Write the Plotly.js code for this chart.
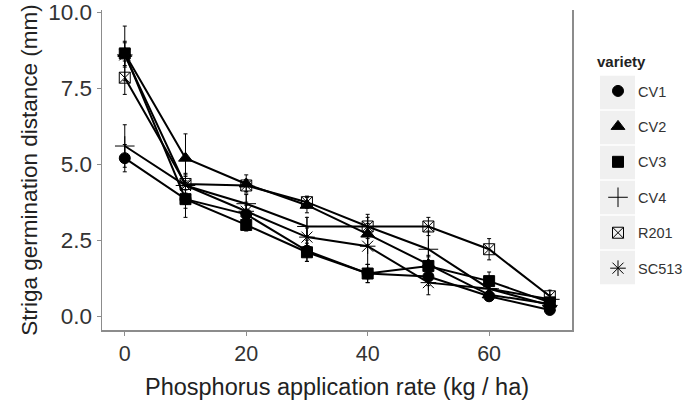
<!DOCTYPE html>
<html><head><meta charset="utf-8">
<script src="https://cdn.plot.ly/plotly-3.0.1.min.js"></script>
<style>body{margin:0;background:#fff}#c{width:685px;height:401px}</style>
</head><body><div id="c"></div>
<script>
const rate = [0, 10, 20, 30, 40, 50, 60, 70];
const varieties = ["CV1", "CV2", "CV3", "CV4", "R201", "SC513"];
const CV1 = [5.2, 3.85, 3.35, 2.15, 1.4, 1.3, 0.65, 0.2];
const CV1_se = [0.45, 0.3, 0.3, 0.35, 0.3, 0.3, 0.15, 0.15];
const CV2 = [8.65, 5.2, 4.35, 3.65, 2.7, 1.7, 0.7, 0.4];
const CV2_se = [0.9, 0.8, 0.3, 0.25, 0.35, 0.3, 0.2, 0.15];
const CV3 = [8.65, 3.85, 3.0, 2.1, 1.4, 1.65, 1.15, 0.45];
const CV3_se = [0.4, 0.6, 0.2, 0.3, 0.3, 0.3, 0.3, 0.15];
const CV4 = [5.6, 4.3, 3.7, 2.95, 2.95, 2.2, 0.9, 0.55];
const CV4_se = [0.7, 0.4, 0.3, 0.3, 0.3, 0.6, 0.2, 0.15];
const R201 = [7.85, 4.35, 4.3, 3.75, 2.95, 2.95, 2.2, 0.65];
const R201_se = [0.55, 0.3, 0.2, 0.2, 0.4, 0.3, 0.35, 0.2];
const SC513 = [8.6, 4.3, 3.45, 2.6, 2.3, 1.1, 0.9, 0.35];
const SC513_se = [0.4, 0.3, 0.3, 0.3, 0.6, 0.4, 0.2, 0.15];

const values = [CV1, CV2, CV3, CV4, R201, SC513];
const errors = [CV1_se, CV2_se, CV3_se, CV4_se, R201_se, SC513_se];
const symbols = ["circle", "triangle-up", "square", "cross-thin-open", "square-x-open", "asterisk-open"];
const sizes = [11, 12, 11, 14, 11, 13];

const traces = [];
varieties.forEach((v, i) => {
  traces.push({
    type: "scatter", mode: "lines", name: v, legendgroup: v, showlegend: false,
    x: rate, y: values[i], line: {color: "#000", width: 2}, hoverinfo: "skip"
  });
});
varieties.forEach((v, i) => {
  traces.push({
    type: "scatter", mode: "markers", name: v, legendgroup: v,
    x: rate, y: values[i],
    error_y: {type: "data", array: errors[i], visible: true, color: "#000", thickness: 1, width: 2},
    marker: {symbol: symbols[i], size: sizes[i], color: "#000", line: {color: "#000", width: 1}}
  });
});

const shapes = [];
for (let i = 0; i < 6; i++) {
  const top = 75 + 35 * i, bot = top + 35;
  shapes.push({type: "rect", xref: "paper", yref: "paper", layer: "below",
    x0: (600 - 102) / 470, x1: (635 - 102) / 470,
    y0: (330 - bot) / 320 + 0.002, y1: (330 - top) / 320 - 0.002,
    fillcolor: "#f0f0f0", line: {width: 0}});
}

const layout = {
  width: 685, height: 401,
  margin: {l: 102, r: 113, t: 10, b: 71, autoexpand: false},
  paper_bgcolor: "#fff", plot_bgcolor: "#fff",
  font: {family: "Liberation Sans, Arial, sans-serif", color: "#333"},
  showlegend: true,
  xaxis: {range: [-3.75, 73.65], tickvals: [0, 20, 40, 60], showgrid: false, zeroline: false,
    showline: true, linecolor: "#8c8c8c", linewidth: 1.5, ticks: "outside", ticklen: 4, tickcolor: "#8c8c8c",
    tickfont: {size: 21.5, color: "#333"},
    title: {text: "Phosphorus application rate (kg / ha)", font: {size: 23.5, color: "#222"}, standoff: 13}},
  yaxis: {range: [-0.46, 10.08], tickvals: [0, 2.5, 5, 7.5, 10], ticktext: ["0.0", "2.5", "5.0", "7.5", "10.0"],
    showgrid: false, zeroline: false,
    showline: true, mirror: true, linecolor: "#8c8c8c", linewidth: 1.5, ticks: "outside", ticklen: 4, tickcolor: "#8c8c8c",
    tickfont: {size: 22.5, color: "#333"},
    title: {text: "Striga germination distance (mm)", font: {size: 22.5, color: "#222"}, standoff: 4}},
  legend: {x: (598 - 102) / 470, xanchor: "left", y: (330 - 75) / 320, yanchor: "top",
    bgcolor: "rgba(0,0,0,0)", font: {size: 14.5, color: "#333"}, tracegroupgap: 13.6},
  annotations: [{text: "<b>variety</b>", xref: "paper", yref: "paper", x: (595 - 102) / 470, y: (330 - 62) / 320,
    xanchor: "left", yanchor: "middle", showarrow: false, font: {size: 15, color: "#222"}}],
  shapes: shapes
};

Plotly.newPlot("c", traces, layout, {displayModeBar: false, staticPlot: true});
</script>
</body></html>
